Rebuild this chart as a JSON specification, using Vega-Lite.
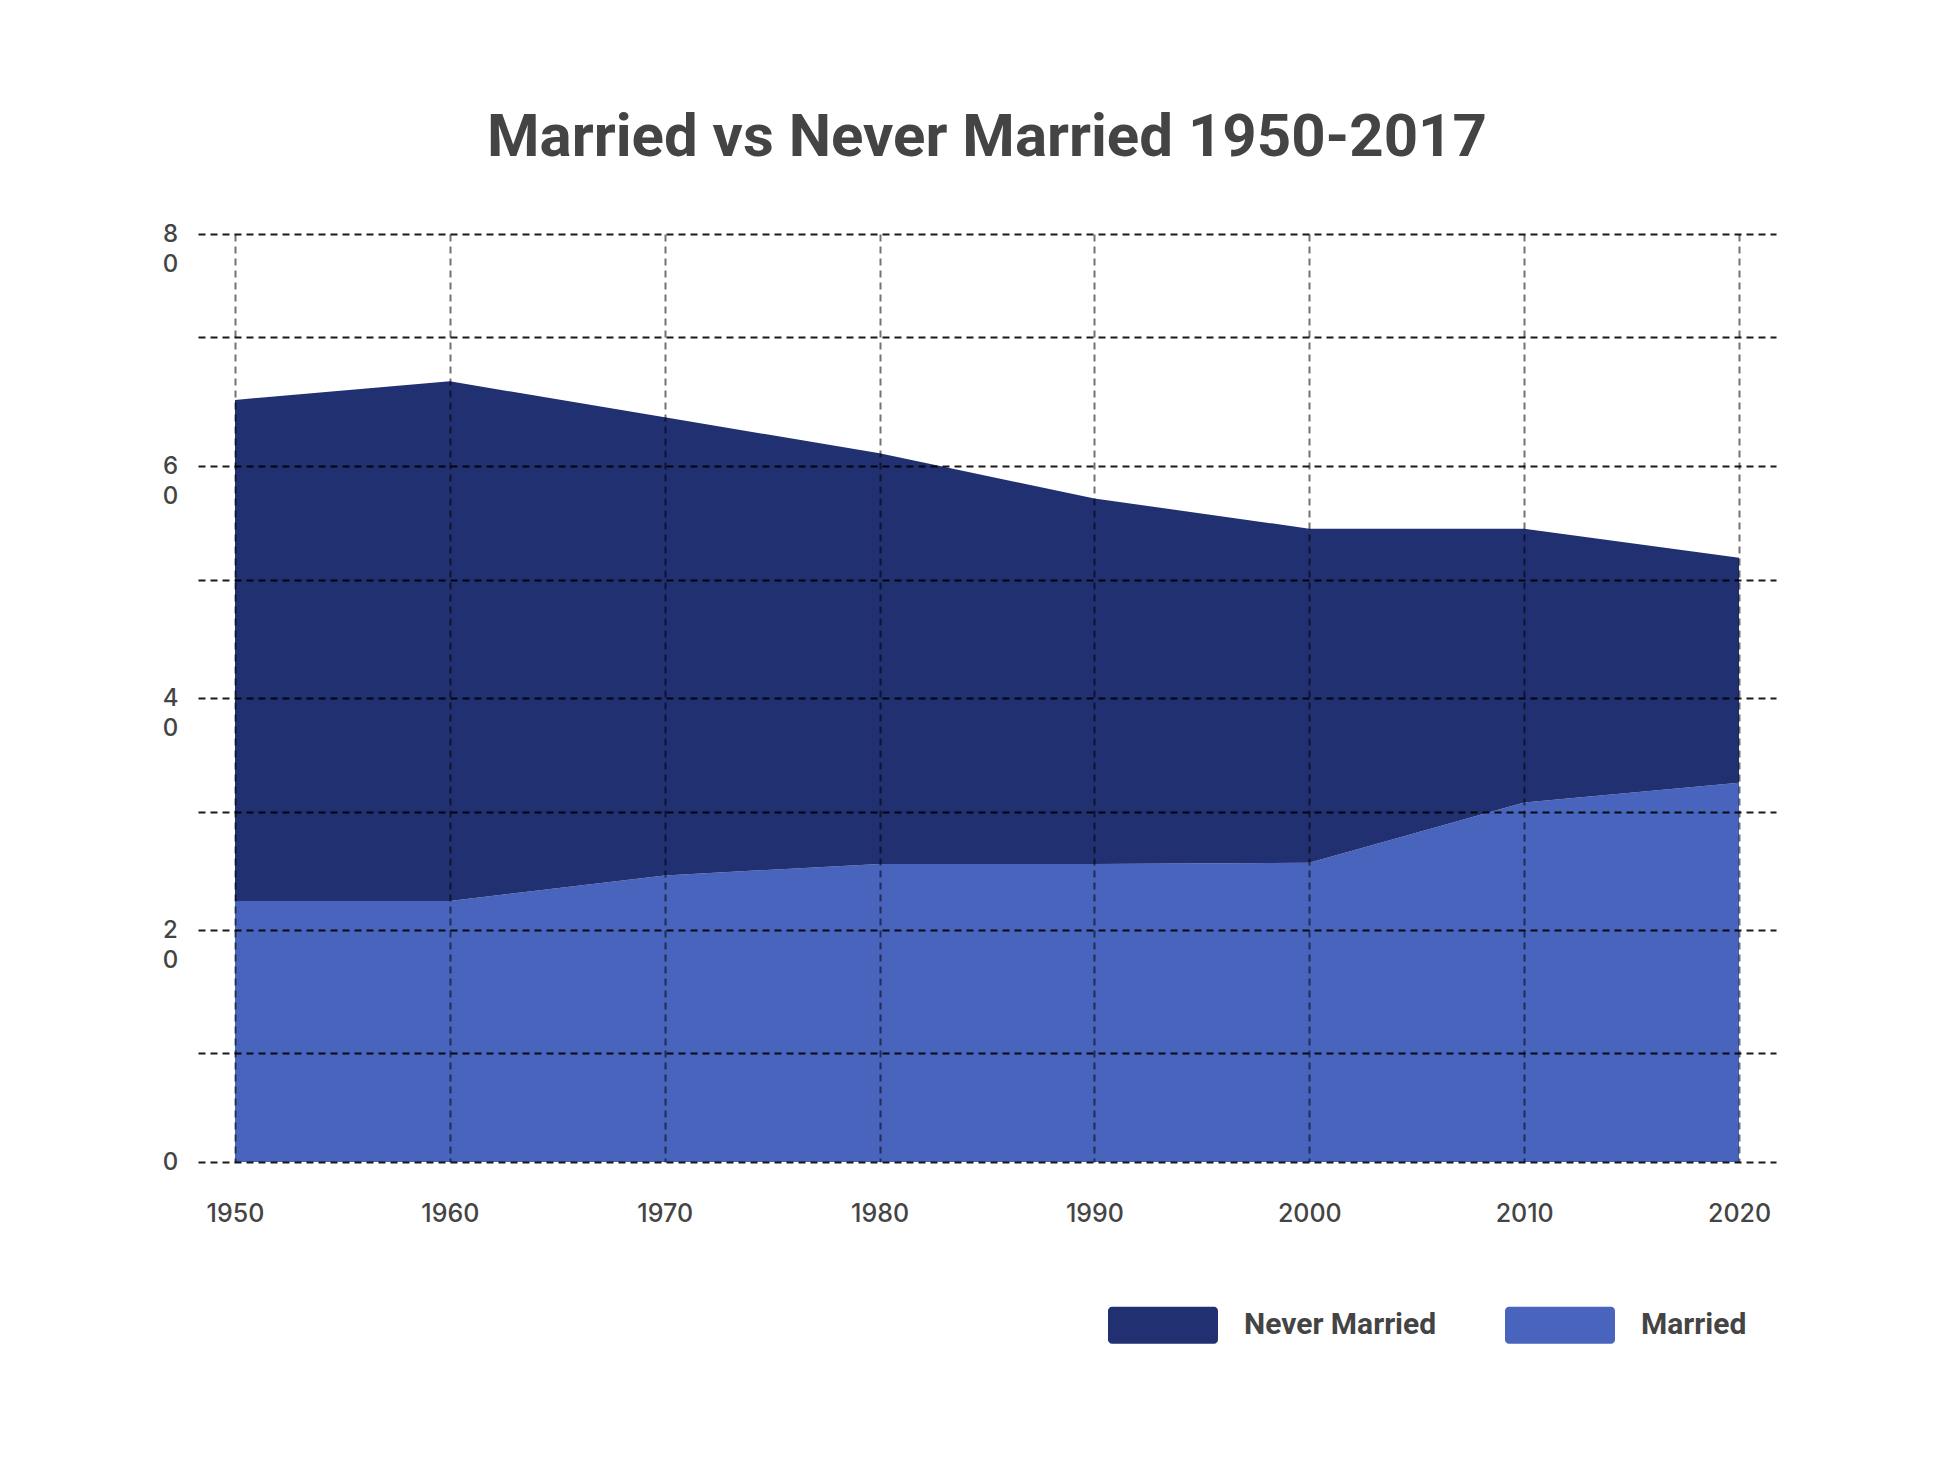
{
  "$schema": "https://vega.github.io/schema/vega-lite/v6.json",
  "width": 1578,
  "height": 928,
  "autosize": {"type": "none"},
  "padding": {"left": 198, "top": 234, "right": 169, "bottom": 306},
  "background": "white",
  "title": {
    "text": "Married vs Never Married 1950-2017",
    "font": "Roboto",
    "fontSize": 60,
    "fontWeight": 700,
    "color": "#444444",
    "anchor": "middle",
    "baseline": "bottom",
    "offset": 5,
    "dy": 12,
    "frame": "group"
  },
  "data": {
    "values": [
      {"year": 1950, "series": "Married", "value": 22.5},
      {"year": 1960, "series": "Married", "value": 22.5},
      {"year": 1970, "series": "Married", "value": 24.7},
      {"year": 1980, "series": "Married", "value": 25.7},
      {"year": 1990, "series": "Married", "value": 25.7},
      {"year": 2000, "series": "Married", "value": 25.8},
      {"year": 2010, "series": "Married", "value": 31.0},
      {"year": 2020, "series": "Married", "value": 32.7},
      {"year": 1950, "series": "Never Married", "value": 43.2},
      {"year": 1960, "series": "Never Married", "value": 44.8},
      {"year": 1970, "series": "Never Married", "value": 39.5},
      {"year": 1980, "series": "Never Married", "value": 35.4},
      {"year": 1990, "series": "Never Married", "value": 31.5},
      {"year": 2000, "series": "Never Married", "value": 28.8},
      {"year": 2010, "series": "Never Married", "value": 23.6},
      {"year": 2020, "series": "Never Married", "value": 19.4}
    ]
  },
  "mark": {"type": "area", "interpolate": "linear", "opacity": 1},
  "encoding": {
    "x": {
      "field": "year",
      "type": "quantitative",
      "scale": {"domain": [1948.28, 2021.72], "nice": false, "zero": false},
      "axis": {
        "values": [1950, 1960, 1970, 1980, 1990, 2000, 2010, 2020],
        "format": "d",
        "title": null,
        "grid": true,
        "gridDash": [7, 5],
        "gridColor": "#000000",
        "gridOpacity": 0.55,
        "gridWidth": 2,
        "domain": false,
        "ticks": false,
        "tickSize": 0,
        "labelPadding": 51,
        "labelBaseline": "middle",
        "labelFont": "Inter",
        "labelFontSize": 25,
        "labelFontWeight": 500,
        "labelColor": "#444444",
        "labelOverlap": false,
        "labelFlush": false,
        "zindex": 1
      }
    },
    "y": {
      "field": "value",
      "type": "quantitative",
      "stack": "zero",
      "scale": {"domain": [0, 80], "nice": false},
      "axis": {
        "values": [0, 9.4, 20, 30.2, 40, 50.2, 60, 71.1, 80],
        "title": null,
        "grid": true,
        "gridDash": [7, 5],
        "gridColor": "#000000",
        "gridOpacity": 0.9,
        "gridWidth": 2,
        "domain": false,
        "ticks": false,
        "tickSize": 0,
        "labelExpr": "datum.value % 20 == 0 ? (datum.value == 0 ? ['0', ''] : [substring(datum.label, 0, 1), substring(datum.label, 1, 2)]) : ''",
        "labelAlign": "center",
        "labelBaseline": "middle",
        "labelPadding": 28,
        "labelLineHeight": 30,
        "labelOffset": 0,
        "labelFont": "Inter",
        "labelFontSize": 24,
        "labelFontWeight": 500,
        "labelColor": "#444444",
        "labelOverlap": false,
        "labelFlush": false,
        "zindex": 1
      }
    },
    "color": {
      "field": "series",
      "type": "nominal",
      "scale": {"domain": ["Never Married", "Married"], "range": ["#213071", "#4864BD"]},
      "legend": {
        "orient": "none",
        "legendX": 910,
        "legendY": 1036,
        "direction": "horizontal",
        "title": null,
        "padding": 0,
        "symbolType": "M-0.927,-0.336 H0.927 A0.073,0.073 0 0 1 1,-0.263 V0.263 A0.073,0.073 0 0 1 0.927,0.336 H-0.927 A0.073,0.073 0 0 1 -1,0.263 V-0.263 A0.073,0.073 0 0 1 -0.927,-0.336 Z",
        "symbolSize": 12100,
        "symbolStrokeWidth": 0,
        "symbolOpacity": 1,
        "labelFont": "Roboto",
        "labelFontSize": 30,
        "labelFontWeight": 700,
        "labelColor": "#444444",
        "labelOffset": 26,
        "labelLimit": 400,
        "columnPadding": 68
      }
    },
    "order": {"field": "series", "sort": "ascending"}
  },
  "config": {"view": {"stroke": null}}
}
